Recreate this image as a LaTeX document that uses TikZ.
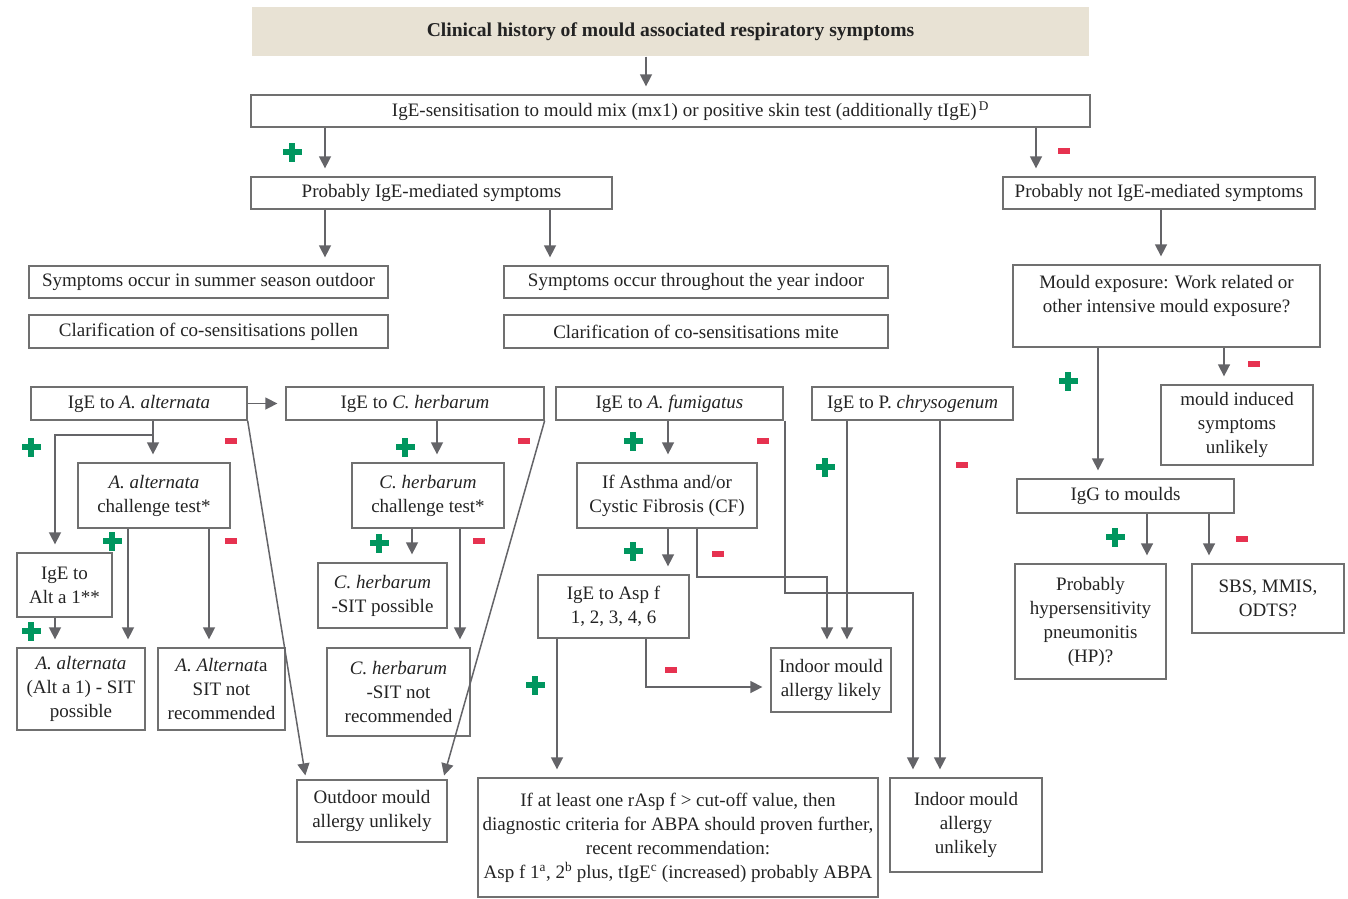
\documentclass[tikz,border=0pt]{standalone}
\usepackage{fontspec}
\setmainfont{Liberation Serif}
\usetikzlibrary{arrows.meta, positioning, calc}
\definecolor{titlefill}{RGB}{232,226,212}
\definecolor{boxgray}{RGB}{112,112,112}
\definecolor{arrowgray}{RGB}{100,100,104}
\definecolor{textgray}{RGB}{35,35,35}
\definecolor{plusgreen}{RGB}{0,150,95}
\definecolor{minusred}{RGB}{230,50,80}

\tikzset{
  box/.style={draw=boxgray, line width=1.3pt, rectangle, align=center, inner sep=1pt,
    text=textgray, font=\fontsize{19}{24}\selectfont},
  conn/.style={-{Triangle[length=12pt, width=12pt]}, draw=arrowgray, line width=1.5pt, shorten >=8pt},
  plusmk/.pic={\fill[plusgreen] (-9.5,-3.2) rectangle (9.5,3.2);
    \fill[plusgreen] (-3.2,-9.5) rectangle (3.2,9.5);},
  minusmk/.pic={\fill[minusred] (-6,-2.6) rectangle (6,2.6);}
}

\begin{document}
\begin{tikzpicture}[x=1pt, y=-1pt]
    \useasboundingbox (0,0) rectangle (1348,898);
    % title and first levels
    \node[box, draw=none, fill=titlefill, font=\fontsize{19.6}{24}\selectfont\bfseries, minimum width=837, minimum height=49] (title) at (670.5,31.5) {Clinical history of mould associated respiratory symptoms};
    \node[box, minimum width=839, minimum height=32] (sens) at (670.5,111) {\hspace*{40pt}IgE-sensitisation to mould mix (mx1) or positive skin test (additionally tIgE)\textsuperscript{\,D}};
    \node[box, minimum width=361, minimum height=32] (ige) at (431.5,193) {Probably IgE-mediated symptoms};
    \node[box, minimum width=312, minimum height=32] (noige) at (1159,193) {Probably not IgE-mediated symptoms};
    \node[box, minimum width=359, minimum height=32] (summer) at (208.5,282) {Symptoms occur in summer season outdoor};
    \node[box, minimum width=359, minimum height=33] (pollen) at (208.5,331.5) {Clarification of co-sensitisations pollen};
    \node[box, minimum width=384, minimum height=32] (yearin) at (696,282) {Symptoms occur throughout the year indoor};
    \node[box, minimum width=384, minimum height=33] (mite) at (696,331.5) {Clarification of co-sensitisations mite};
    % not IgE-mediated branch
    \node[box, minimum width=307, minimum height=82] (expo) at (1166.5,306) {Mould exposure: Work related or\\other intensive mould exposure?\\ \mbox{}};
    \node[box, minimum width=152, minimum height=80] (unlik) at (1237,425) {mould induced\\symptoms\\unlikely};
    \node[box, minimum width=217, minimum height=34] (iggm) at (1125.5,496) {IgG to moulds};
    \node[box, minimum width=151, minimum height=115] (hp) at (1090.5,621.5) {Probably\\hypersensitivity\\pneumonitis\\(HP)?};
    \node[box, minimum width=152, minimum height=69] (sbs) at (1268,598.5) {SBS, MMIS,\\ODTS?};
    % single moulds
    \node[box, minimum width=216, minimum height=33] (alt) at (139,403.5) {IgE to \textit{A. alternata}};
    \node[box, minimum width=258, minimum height=33] (herb) at (415,403.5) {IgE to \textit{C. herbarum}};
    \node[box, minimum width=227, minimum height=33] (fumi) at (669.5,403.5) {IgE to \textit{A. fumigatus}};
    \node[box, minimum width=201, minimum height=33] (chry) at (912.5,403.5) {IgE to P. \textit{chrysogenum}};
    \node[box, minimum width=152, minimum height=65] (altch) at (154,495.5) {\textit{A. alternata}\\challenge test*};
    \node[box, minimum width=95, minimum height=64] (alta1) at (64.5,585) {IgE to\\Alt a 1**};
    \node[box, minimum width=128, minimum height=82] (altsit) at (81,689) {\textit{A. alternata}\\(Alt a 1) - SIT\\possible};
    \node[box, minimum width=127, minimum height=82] (altnot) at (221.5,689) {\textit{A. Alternat}a\\SIT not\\recommended};
    \node[box, minimum width=150, minimum height=62] (outdoor) at (372,811) {Outdoor mould\\allergy unlikely};
    \node[box, minimum width=152, minimum height=65] (herbch) at (428,495.5) {\textit{C. herbarum}\\challenge test*};
    \node[box, minimum width=129, minimum height=65] (herbsit) at (382.5,595.5) {\textit{C. herbarum}\\-SIT possible};
    \node[box, minimum width=143, minimum height=88] (herbnot) at (398.5,692) {\textit{C. herbarum}\\-SIT not\\recommended};
    \node[box, minimum width=180, minimum height=65] (asthma) at (667,495.5) {If Asthma and/or\\Cystic Fibrosis (CF)};
    \node[box, minimum width=151, minimum height=63] (aspf) at (613.5,606.5) {IgE to Asp f\\1, 2, 3, 4, 6};
    \node[box, minimum width=120, minimum height=64] (inlik) at (831,680) {Indoor mould\\allergy likely};
    \node[box, minimum width=400, minimum height=119] (abpa) at (678,837.5) {If at least one rAsp f > cut-off value, then\\diagnostic criteria for ABPA should proven further,\\recent recommendation:\\Asp f 1\textsuperscript{a}, 2\textsuperscript{b} plus, tIgE\textsuperscript{c} (increased) probably ABPA};
    \node[box, minimum width=152, minimum height=94] (inunl) at (966,825) {Indoor mould\\allergy\\unlikely};

    % connectors, upper part
    \draw[conn] (646,0 |- title.south) -- (646,0 |- sens.north);
    \draw[conn] (325,0 |- sens.south) -- (325,0 |- ige.north);
    \draw[conn] (1036,0 |- sens.south) -- (1036,0 |- noige.north);
    \draw[conn] (325,0 |- ige.south) -- (325,0 |- summer.north);
    \draw[conn] (550,0 |- ige.south) -- (550,0 |- yearin.north);
    \draw[conn] (1161,0 |- noige.south) -- (1161,0 |- expo.north);
    \draw[conn] (1224,0 |- expo.south) -- (1224,0 |- unlik.north);
    \draw[conn] (1098,0 |- expo.south) -- (1098,0 |- iggm.north);
    \draw[conn] (1147,0 |- iggm.south) -- (1147,0 |- hp.north);
    \draw[conn] (1209,0 |- iggm.south) -- (1209,0 |- sbs.north);
    % A. alternata
    \draw[conn] (alt.east) -- (herb.west);
    \draw[conn] (153,0 |- alt.south) -- (153,0 |- altch.north);
    \draw[conn] (153,0 |- alt.south) |- (55,435) -- (55,0 |- alta1.north);
    \draw[conn] (128,0 |- altch.south) -- (128,0 |- altsit.north);
    \draw[conn] (209,0 |- altch.south) -- (209,0 |- altnot.north);
    \draw[conn] (55,0 |- alta1.south) -- (55,0 |- altsit.north);
    \draw[conn, shorten >=4pt] (alt.south east) -- (306,0 |- outdoor.north);
    % C. herbarum
    \draw[conn, shorten >=4pt] (herb.south east) -- (443,0 |- outdoor.north);
    \draw[conn] (437,0 |- herb.south) -- (437,0 |- herbch.north);
    \draw[conn] (412,0 |- herbch.south) -- (412,0 |- herbsit.north);
    \draw[conn] (460,0 |- herbch.south) -- (460,0 |- herbnot.north);
    % A. fumigatus
    \draw[conn] (668,0 |- fumi.south) -- (668,0 |- asthma.north);
    \draw[conn] (668,0 |- asthma.south) -- (668,0 |- aspf.north);
    \draw[conn] (697,0 |- asthma.south) |- (827,577) -- (827,0 |- inlik.north);
    \draw[conn] (785,0 |- fumi.south) |- (913,593) -- (913,0 |- inunl.north);
    \draw[conn] (646,0 |- aspf.south) |- (inlik.west |- 0,687);
    \draw[conn] (557,0 |- aspf.south) -- (557,0 |- abpa.north);
    % P. chrysogenum
    \draw[conn] (847,0 |- chry.south) -- (847,0 |- inlik.north);
    \draw[conn] (940,0 |- chry.south) -- (940,0 |- inunl.north);

    % plus and minus marks
    \foreach \px/\py in {292/152, 1068/381, 1115/537, 31/447, 112/541, 31/631, 405/447, 379/543,
        633/441, 633/551, 535/685, 825/467}
      \pic at (\px,\py) {plusmk};
    \foreach \mx/\my in {1064/151, 1254/364, 1242/539, 231/441, 231/541, 524/441, 479/541,
        763/441, 718/554, 671/670, 962/465}
      \pic at (\mx,\my) {minusmk};
\end{tikzpicture}
\end{document}
